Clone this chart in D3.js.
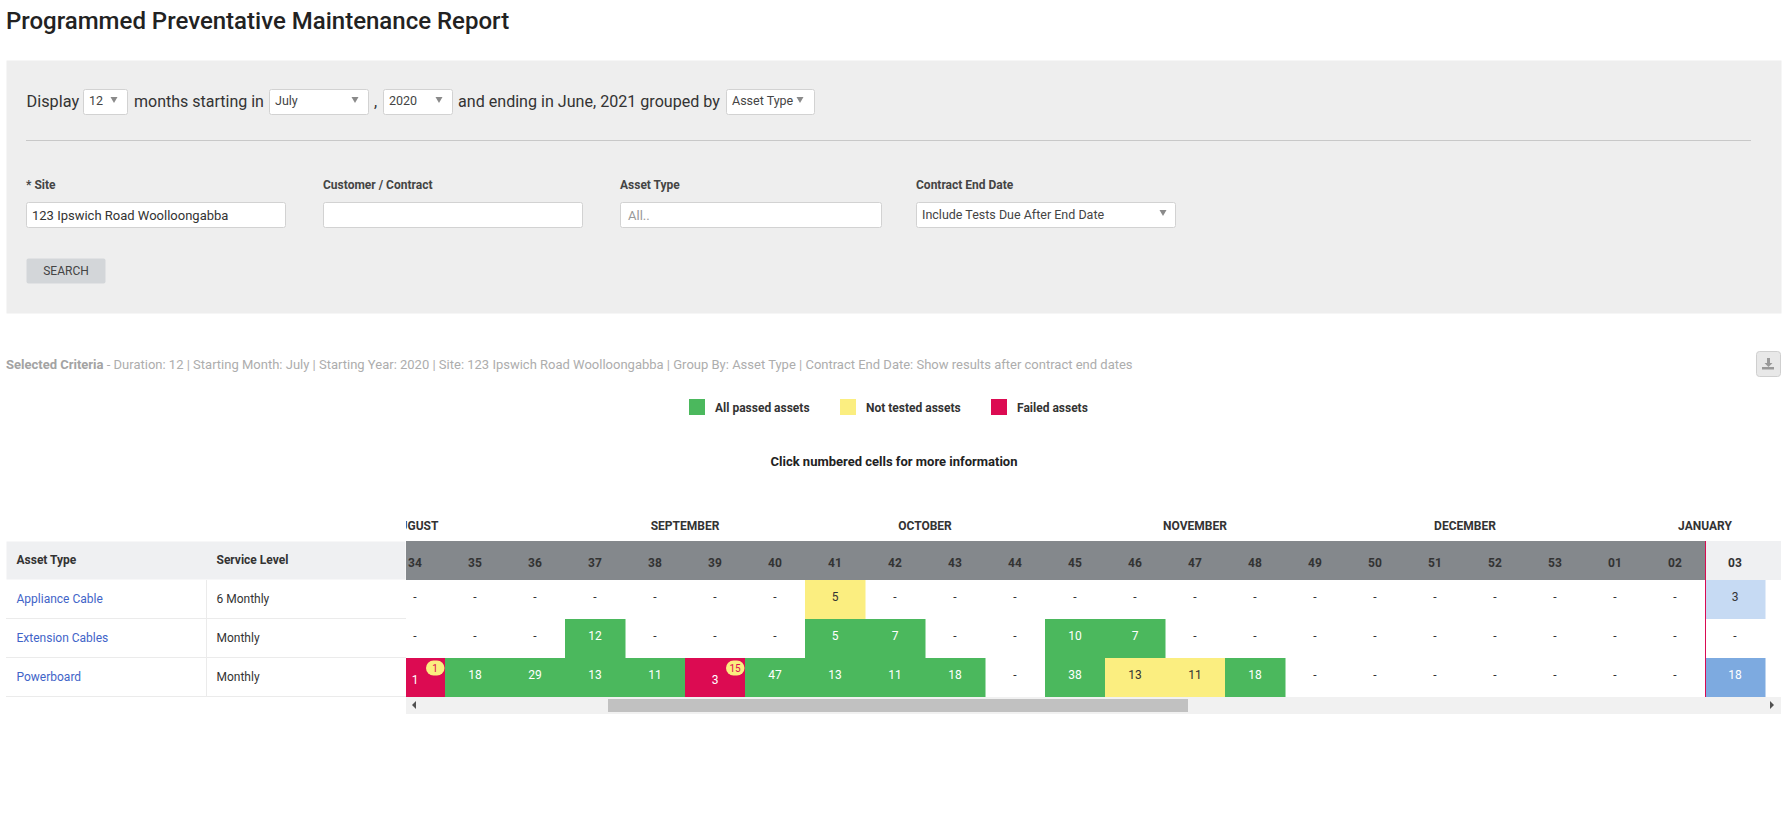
<!DOCTYPE html>
<html lang="en">
<head>
<meta charset="UTF-8">
<title>Programmed Preventative Maintenance Report</title>
<script src="https://d3js.org/d3.v7.min.js"></script>
<style>
    html, body { margin: 0; padding: 0; background: #fff; overflow: hidden; }
    svg { display: block; font-family: Roboto, sans-serif; }
    text { fill: #333; }
    .b { font-weight: 700; }
</style>
</head>
<body>
<svg id="page" width="1787" height="838"></svg>
<script>
// week columns; 32, 33 and 04 only set the scale and month spans, they are scrolled out of view
var weeks = ["32","33","34","35","36","37","38","39","40","41","42","43","44","45","46","47","48","49","50","51","52","53","01","02","03","04"];
var shownWeeks = ["34","35","36","37","38","39","40","41","42","43","44","45","46","47","48","49","50","51","52","53","01","02","03"];
var assetTypes = ["Appliance Cable", "Extension Cables", "Powerboard"];
var serviceLevels = ["6 Monthly", "Monthly", "Monthly"];
var _ = null;
// one entry per shown week
var applianceValues = [_,_,_,_,_,_,_,5,_,_,_,_,_,_,_,_,_,_,_,_,_,_,3];
var extensionValues = [_,_,_,12,_,_,_,5,7,_,_,10,7,_,_,_,_,_,_,_,_,_,_];
var powerboardValues = [1,18,29,13,11,3,47,13,11,18,_,38,13,11,18,_,_,_,_,_,_,_,18];
var applianceStatus = [_,_,_,_,_,_,_,"untested",_,_,_,_,_,_,_,_,_,_,_,_,_,_,"dueSoft"];
var extensionStatus = [_,_,_,"passed",_,_,_,"passed","passed",_,_,"passed","passed",_,_,_,_,_,_,_,_,_,_];
var powerboardStatus = ["failed","passed","passed","passed","passed","failed","passed","passed","passed","passed",_,"passed","untested","untested","passed",_,_,_,_,_,_,_,"due"];
var powerboardBadges = [1,_,_,_,_,15,_,_,_,_,_,_,_,_,_,_,_,_,_,_,_,_,_];
var monthNames = ["AUGUST", "SEPTEMBER", "OCTOBER", "NOVEMBER", "DECEMBER", "JANUARY"];
var monthFirst = ["32", "37", "41", "45", "50", "01"];
var monthLast = ["36", "40", "44", "49", "53", "04"];
var currentWeek = "03";
var statusKeys = ["passed", "untested", "failed", "due", "dueSoft"];
var statusColors = ["#4bb85d", "#fbee80", "#dc0b52", "#7daae0", "#c6daf3"];
var legendKeys = ["passed", "untested", "failed"];
var legendLabels = ["All passed assets", "Not tested assets", "Failed assets"];

var svg = d3.select("#page");
var color = d3.scaleOrdinal().domain(statusKeys).range(statusColors);

function label(x, y, str, size, opts) {
    opts = opts || {};
    return svg.append("text").attr("x", x).attr("y", y)
        .style("font-size", size + "px")
        .style("font-weight", opts.weight || 400)
        .style("fill", opts.fill || "#333")
        .attr("text-anchor", opts.anchor || "start")
        .text(str);
}
function box(x, y, w, h, fill, stroke, r) {
    return svg.append("rect").attr("x", x + 0.5).attr("y", y + 0.5).attr("width", w - 1).attr("height", h - 1)
        .attr("rx", r || 0).attr("fill", fill).attr("stroke", stroke || "none");
}
function caret(x, y) {
    svg.append("path").attr("d", "M" + (x - 3.5) + "," + (y - 3) + "h7l-3.5,6z").attr("fill", "#8a8a8a");
}
function dropdown(x0, x1, text, caretX) {
    box(x0, 89, x1 - x0, 26, "#fff", "#d2d2d2", 2);
    label(x0 + 6, 105, text, 12.5, {fill: "#444"});
    caret(caretX, 100);
}

// page heading
label(6, 29, "Programmed Preventative Maintenance Report", 24, {weight: 500, fill: "#222"});

// search panel
box(6, 60, 1776, 254, "#eeeeee");
label(26.5, 107, "Display", 16.3);
dropdown(83, 128, "12", 114);
label(134, 107, "months starting in", 16);
dropdown(269, 369, "July", 355);
label(374, 107, ",", 16);
dropdown(383, 453, "2020", 439);
label(458, 107, "and ending in June, 2021 grouped by", 16.1);
dropdown(726, 815, "Asset Type", 800);
svg.append("line").attr("x1", 26).attr("x2", 1751).attr("y1", 140.5).attr("y2", 140.5).attr("stroke", "#c8c8c8");

label(26, 189, "* Site", 12, {weight: 700, fill: "#444"});
label(323, 189, "Customer / Contract", 12, {weight: 700, fill: "#444"});
label(620, 189, "Asset Type", 12, {weight: 700, fill: "#444"});
label(916, 189, "Contract End Date", 12, {weight: 700, fill: "#444"});
box(26, 202, 260, 26, "#fff", "#d2d2d2", 2);
label(32, 220, "123 Ipswich Road Woolloongabba", 13, {fill: "#333"});
box(323, 202, 260, 26, "#fff", "#d2d2d2", 2);
box(620, 202, 262, 26, "#fff", "#d2d2d2", 2);
label(628, 220, "All..", 13, {fill: "#999"});
box(916, 202, 260, 26, "#fff", "#d2d2d2", 2);
label(922, 219, "Include Tests Due After End Date", 12.5, {fill: "#444"});
caret(1163, 213);
box(26, 258, 80, 26, "#d3d6d9", null, 2);
label(66, 275, "SEARCH", 12, {anchor: "middle", fill: "#444"});

// selected criteria line
var criteria = label(6, 369, "", 13, {fill: "#adadad"});
criteria.append("tspan").style("font-weight", 700).style("fill", "#a3a3a3").text("Selected Criteria");
criteria.append("tspan").text(" - Duration: 12 | Starting Month: July | Starting Year: 2020 | Site: 123 Ipswich Road Woolloongabba | Group By: Asset Type | Contract End Date: Show results after contract end dates");

// download button
box(1756, 351, 25, 26, "#e8e8e8", "#cfcfcf", 3);
svg.append("path").attr("d", "M1767,358h3v5h2.5l-4,4l-4,-4h2.5z M1762,367h12v2.5h-12z").attr("fill", "#999");

// legend
var legendX = d3.scaleOrdinal().domain(legendKeys).range([689, 840, 991]);
var legend = svg.selectAll(".legend").data(legendKeys).enter().append("g").attr("class", "legend")
    .attr("transform", function(d) { return "translate(" + legendX(d) + ",399)"; });
legend.append("rect").attr("width", 16).attr("height", 16).attr("fill", function(d) { return color(d); });
legend.append("text").attr("x", 26).attr("y", 12.5).attr("class", "b").style("font-size", "12px")
    .text(function(d, i) { return legendLabels[i]; });

label(894, 466, "Click numbered cells for more information", 13, {weight: 700, anchor: "middle", fill: "#222"});

// table geometry
var tableLeft = 6, fixedRight = 406, viewRight = 1781;
var headTop = 541, headBottom = 580;
var x = d3.scaleBand().domain(weeks).range([265, 265 + 60 * weeks.length]);
var y = d3.scaleBand().domain(assetTypes).range([580, 697]);

// fixed columns
box(tableLeft, headTop, fixedRight - tableLeft, headBottom - headTop, "#eff0f2");
label(16.5, 563.5, "Asset Type", 12, {weight: 700, fill: "#333"});
label(216.5, 563.5, "Service Level", 12, {weight: 700, fill: "#333"});

var rows = svg.selectAll(".fixed-row").data(assetTypes).enter().append("g").attr("class", "fixed-row");
rows.append("text").attr("x", 16.5).attr("y", function(d) { return y(d) + y.bandwidth() / 2 + 3; })
    .style("font-size", "12px").style("fill", "#3f64c8").text(function(d) { return d; });
rows.append("text").attr("x", 216.5).attr("y", function(d) { return y(d) + y.bandwidth() / 2 + 3; })
    .style("font-size", "12px").style("fill", "#333").text(function(d, i) { return serviceLevels[i]; });
rows.append("line").attr("x1", tableLeft).attr("x2", fixedRight)
    .attr("y1", function(d) { return y(d) + y.bandwidth() - 0.5; }).attr("y2", function(d) { return y(d) + y.bandwidth() - 0.5; })
    .attr("stroke", "#ebebeb");
svg.append("line").attr("x1", 206.5).attr("x2", 206.5).attr("y1", headBottom).attr("y2", 697).attr("stroke", "#ebebeb");

// scrolling part, clipped to the visible window
svg.append("clipPath").attr("id", "view").append("rect")
    .attr("x", fixedRight).attr("y", 500).attr("width", viewRight - fixedRight).attr("height", 197);
var scroll = svg.append("g").attr("clip-path", "url(#view)");

scroll.selectAll(".month").data(monthNames).enter().append("text").attr("class", "month b")
    .attr("x", function(d, i) { return (x(monthFirst[i]) + x(monthLast[i]) + x.bandwidth()) / 2; })
    .attr("y", 530).attr("text-anchor", "middle").style("font-size", "12px")
    .text(function(d) { return d; });

scroll.append("rect").attr("x", fixedRight).attr("y", headTop)
    .attr("width", x(currentWeek) - fixedRight).attr("height", headBottom - headTop).attr("fill", "#84888c");
scroll.append("rect").attr("x", x(currentWeek)).attr("y", headTop)
    .attr("width", viewRight - x(currentWeek)).attr("height", headBottom - headTop).attr("fill", "#eff0f2");

var weekAxis = scroll.append("g").attr("transform", "translate(0," + (headTop + 26) + ")")
    .call(d3.axisTop(x).tickValues(shownWeeks).tickSize(0).tickPadding(0));
weekAxis.select(".domain").remove();
weekAxis.selectAll("text").attr("class", "b").style("font-size", "12px").style("font-family", "Roboto, sans-serif")
    .style("fill", "#333");

var series = [
    {values: applianceValues, status: applianceStatus, badges: []},
    {values: extensionValues, status: extensionStatus, badges: []},
    {values: powerboardValues, status: powerboardStatus, badges: powerboardBadges}
];
series.forEach(function(s, r) {
    var rowY = y(assetTypes[r]);
    var cells = scroll.selectAll(".cell" + r).data(shownWeeks).enter().append("g").attr("class", "cell" + r)
        .attr("transform", function(w) { return "translate(" + x(w) + "," + rowY + ")"; });
    cells.filter(function(w, i) { return s.status[i]; }).append("rect")
        .attr("width", x.bandwidth() + 0.5).attr("height", y.bandwidth())
        .attr("fill", function(w) { return color(s.status[shownWeeks.indexOf(w)]); });
    cells.append("text").attr("x", x.bandwidth() / 2).attr("text-anchor", "middle")
        .attr("y", function(w) { return s.status[shownWeeks.indexOf(w)] == "failed" ? 26 : 21; })
        .style("font-size", "12px")
        .style("fill", function(w) {
            var st = s.status[shownWeeks.indexOf(w)];
            if (st == "passed" || st == "failed" || st == "due") return "#fff";
            return "#333";
        })
        .text(function(w, i) { return s.values[i] === null ? "-" : s.values[i]; });
    var badged = cells.filter(function(w, i) { return s.badges[i]; });
    badged.append("rect").attr("x", x.bandwidth() - 19).attr("y", 2.5).attr("width", 18.5).attr("height", 15)
        .attr("rx", 7.5).attr("fill", "#fbee80");
    badged.append("text").attr("x", x.bandwidth() - 10).attr("y", 13.5).attr("text-anchor", "middle")
        .style("font-size", "10px").style("fill", "#dc0b52")
        .text(function(w) { return s.badges[shownWeeks.indexOf(w)]; });
});

// current week marker
svg.append("line").attr("x1", x(currentWeek) + 0.5).attr("x2", x(currentWeek) + 0.5)
    .attr("y1", headTop).attr("y2", 697).attr("stroke", "#d90b52");

// scrollbar
svg.append("rect").attr("x", fixedRight).attr("y", 697).attr("width", viewRight - fixedRight).attr("height", 17).attr("fill", "#f1f1f1");
svg.append("rect").attr("x", 608).attr("y", 699).attr("width", 580).attr("height", 13).attr("fill", "#c1c1c1");
svg.append("path").attr("d", "M412,705l4,-4v8z M1774,705l-4,-4v8z").attr("fill", "#505050");
</script>
</body>
</html>
